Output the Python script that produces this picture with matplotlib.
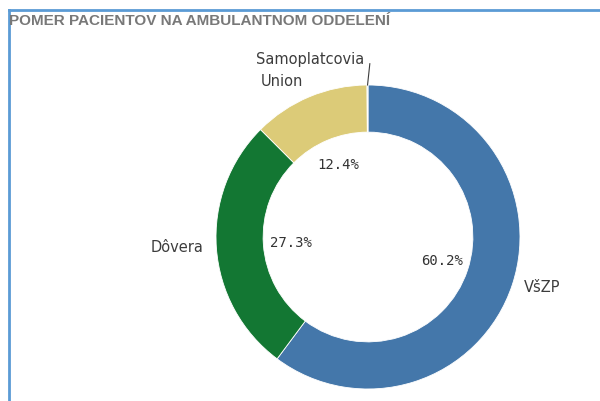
import numpy as np, matplotlib; matplotlib.use("Agg"); import matplotlib.pyplot as plt
from matplotlib.lines import Line2D

# data
title = "POMER PACIENTOV NA AMBULANTNOM ODDELENÍ"
labels = ["VšZP", "Dôvera", "Union", "Samoplatcovia"]
shares = [60.2, 27.3, 12.4, 0.1]
colors = ["#4477aa", "#137733", "#dccb78", "#88ccee"]

W, H = 600, 401
fig = plt.figure(figsize=(W/100, H/100), dpi=100)
cx, cy, R = 368, 237, 152                      # donut centre / radius in px
ax = fig.add_axes([0, 0, 1, 1])
wedges, _, auto = ax.pie(shares, colors=colors, startangle=90, counterclock=False, radius=1,
                         wedgeprops=dict(width=0.31, edgecolor="white", linewidth=0.6),
                         autopct=lambda p: f"{p:.1f}%" if p > 1 else "", pctdistance=0.51,
                         textprops=dict(fontsize=10, color="#333333", family="DejaVu Sans Mono"))
ax.set_aspect("auto")
ax.set_xlim(-cx/R, (W-cx)/R); ax.set_ylim(-(H-cy)/R, cy/R); ax.axis("off")

# outside name labels (radius, angle deg)
place = {"VšZP": (1.2, -16), "Dôvera": (1.26, 183), "Union": (1.17, 119), "Samoplatcovia": (1.23, 108)}
for lab in labels:
    r, a = place[lab]
    x, y = r*np.cos(np.radians(a)), r*np.sin(np.radians(a))
    if lab == "VšZP": x -= 0.13
    ax.text(x, y, lab, ha="left" if lab == "VšZP" else "center", va="center",
            fontsize=10.5, color="#3c3c3c")
# leader line for the tiny slice
ax.plot([-0.003, 0.012], [1.0, 1.14], color="#3c3c3c", lw=0.8)

fig.text(9/W, 1-21/H, title, fontsize=11, fontweight="bold", color="#787878",
         family="Liberation Sans", va="center")
fig.add_artist(Line2D([9/W, 9/W], [0, 1-10/H], color="#5b9bd5", lw=2))
fig.add_artist(Line2D([9/W, 1], [1-10/H, 1-10/H], color="#5b9bd5", lw=2))
plt.savefig("out.png", dpi=100)
